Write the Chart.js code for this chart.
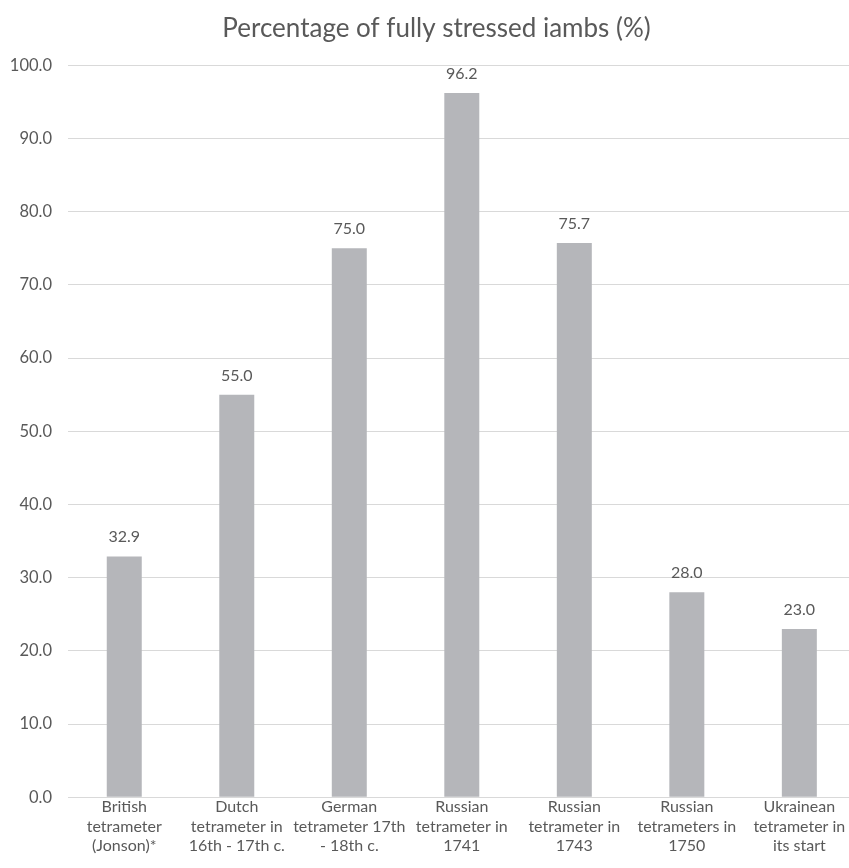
<!DOCTYPE html>
<html>
<head>
<meta charset="utf-8">
<script src="https://cdn.jsdelivr.net/npm/chart.js@4/dist/chart.umd.min.js"></script>
<style>
  html, body { margin: 0; padding: 0; background: #ffffff; overflow: hidden; }
  #wrap { position: relative; width: 873px; height: 868px; }
</style>
</head>
<body>
<div id="wrap"><canvas id="chart"></canvas></div>
<script>
// Categories (one array of lines per bar label)
const categories = [
  ["British", "tetrameter", "(Jonson)*"],
  ["Dutch", "tetrameter in", "16th - 17th c."],
  ["German", "tetrameter 17th", "- 18th c."],
  ["Russian", "tetrameter in", "1741"],
  ["Russian", "tetrameter in", "1743"],
  ["Russian", "tetrameters in", "1750"],
  ["Ukrainean", "tetrameter in", "its start"]
];

// Share of fully stressed iambs, per tradition (%)
const fullyStressed = [32.9, 55.0, 75.0, 96.2, 75.7, 28.0, 23.0];

// Value axis
const yMin = 0;
const yMax = 100;
const yStep = 10;

const chartTitle = "Percentage of fully stressed iambs (%)";

const FONT = "Lato, 'Open Sans', sans-serif";
const TEXT = "#595959";
const GRID = "#d9d9d9";
const BAR = "#b5b6ba";

// Writes each bar's value just above its top
const valueLabels = {
  id: "valueLabels",
  afterDatasetsDraw(chart) {
    const ctx = chart.ctx;
    ctx.save();
    ctx.font = "16px " + FONT;
    ctx.fillStyle = TEXT;
    ctx.textAlign = "center";
    ctx.textBaseline = "alphabetic";
    chart.data.datasets.forEach((ds, i) => {
      chart.getDatasetMeta(i).data.forEach((bar, j) => {
        ctx.fillText(Number(ds.data[j]).toFixed(1), bar.x, bar.y - 14);
      });
    });
    ctx.restore();
  }
};

new Chart(document.getElementById("chart"), {
  type: "bar",
  data: {
    labels: categories,
    datasets: [{
      label: chartTitle,
      data: fullyStressed,
      backgroundColor: BAR,
      borderWidth: 0,
      categoryPercentage: 1.0,
      barPercentage: 0.311,
      yAxisID: "y"
    }]
  },
  options: {
    responsive: true,
    maintainAspectRatio: false,
    animation: false,
    layout: { padding: 0 },
    plugins: {
      legend: { display: false },
      tooltip: { enabled: false },
      title: {
        display: true,
        text: chartTitle,
        color: TEXT,
        font: { family: FONT, size: 26, weight: "normal", lineHeight: 1.2 },
        padding: { top: 13, bottom: 21 }
      }
    },
    scales: {
      x: {
        grid: { display: false, drawTicks: false },
        border: { display: true, color: GRID, width: 1 },
        ticks: {
          color: TEXT,
          font: { family: FONT, size: 16, lineHeight: 1.22 },
          maxRotation: 0,
          minRotation: 0,
          autoSkip: false,
          padding: 0
        },
        afterFit(scale) { scale.height = 70.7; }
      },
      y: {
        min: yMin,
        max: yMax,
        grid: { color: GRID, lineWidth: 1, drawTicks: false },
        border: { display: false },
        ticks: {
          stepSize: yStep,
          color: TEXT,
          font: { family: FONT, size: 16.5 },
          padding: 16,
          callback: (v) => Number(v).toFixed(1)
        },
        afterFit(scale) { scale.width = 68; }
      },
      // empty right-hand margin so the plot runs past the visible edge
      yRight: {
        position: "right",
        display: true,
        grid: { display: false, drawTicks: false },
        border: { display: false },
        ticks: { display: false },
        afterFit(scale) { scale.width = 17.4; }
      }
    }
  },
  plugins: [valueLabels]
});
</script>
</body>
</html>
